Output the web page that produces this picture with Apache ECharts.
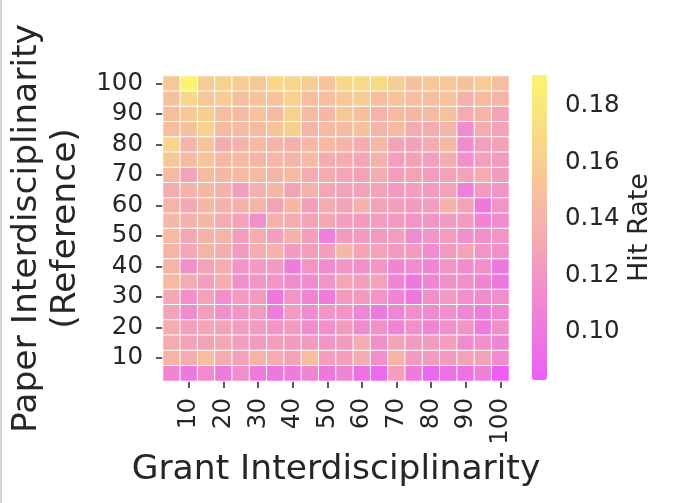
<!DOCTYPE html>
<html>
<head>
<meta charset="utf-8">
<script src="https://cdn.jsdelivr.net/npm/echarts@6/dist/echarts.min.js"></script>
<style>html,body{margin:0;padding:0;background:#fff;}#c{width:680px;height:503px;}</style>
</head>
<body>
<div id="c"></div>
<script>
// Grant interdisciplinarity (x) categories, left to right
const grantBins = ['5','10','15','20','25','30','35','40','45','50','55','60','65','70','75','80','85','90','95','100'];
// Paper interdisciplinarity (y) categories, bottom to top
const paperBins = ['5','10','15','20','25','30','35','40','45','50','55','60','65','70','75','80','85','90','95','100'];
// Hit rate rows, listed from top (paper = 100) to bottom (paper = 5)
const hitRate = [
  [0.155,0.190,0.158,0.163,0.158,0.155,0.168,0.165,0.160,0.152,0.168,0.170,0.170,0.160,0.150,0.155,0.155,0.150,0.158,0.148],
  [0.150,0.168,0.155,0.158,0.148,0.152,0.152,0.163,0.148,0.148,0.155,0.158,0.148,0.152,0.148,0.148,0.152,0.138,0.145,0.140],
  [0.148,0.155,0.160,0.148,0.145,0.152,0.145,0.163,0.145,0.142,0.155,0.148,0.140,0.145,0.142,0.145,0.150,0.134,0.140,0.128],
  [0.148,0.150,0.163,0.145,0.145,0.145,0.152,0.162,0.140,0.145,0.145,0.150,0.140,0.145,0.134,0.134,0.140,0.112,0.134,0.128],
  [0.165,0.140,0.152,0.134,0.138,0.145,0.140,0.137,0.143,0.145,0.140,0.134,0.142,0.128,0.128,0.134,0.142,0.112,0.125,0.128],
  [0.155,0.145,0.152,0.143,0.145,0.140,0.143,0.140,0.145,0.134,0.134,0.130,0.138,0.125,0.128,0.125,0.134,0.115,0.125,0.122],
  [0.145,0.128,0.145,0.142,0.145,0.145,0.140,0.145,0.134,0.134,0.130,0.128,0.134,0.125,0.128,0.125,0.128,0.128,0.134,0.122],
  [0.134,0.138,0.142,0.138,0.125,0.138,0.142,0.128,0.138,0.130,0.128,0.128,0.128,0.122,0.125,0.122,0.128,0.105,0.122,0.118],
  [0.140,0.131,0.142,0.138,0.138,0.140,0.128,0.143,0.125,0.134,0.128,0.138,0.128,0.125,0.122,0.125,0.138,0.128,0.100,0.118],
  [0.142,0.138,0.142,0.134,0.128,0.115,0.138,0.134,0.128,0.130,0.125,0.122,0.125,0.122,0.118,0.118,0.122,0.122,0.108,0.112],
  [0.145,0.130,0.138,0.140,0.125,0.134,0.125,0.138,0.125,0.105,0.122,0.122,0.122,0.125,0.112,0.118,0.125,0.115,0.115,0.118],
  [0.140,0.130,0.140,0.134,0.122,0.134,0.138,0.122,0.125,0.125,0.142,0.128,0.128,0.122,0.122,0.112,0.122,0.128,0.118,0.115],
  [0.140,0.115,0.128,0.134,0.118,0.122,0.122,0.102,0.118,0.112,0.118,0.115,0.118,0.108,0.112,0.108,0.118,0.112,0.115,0.100],
  [0.145,0.134,0.125,0.134,0.115,0.118,0.118,0.112,0.112,0.118,0.130,0.125,0.128,0.108,0.100,0.108,0.115,0.115,0.108,0.100],
  [0.130,0.115,0.128,0.115,0.122,0.122,0.100,0.118,0.108,0.102,0.122,0.122,0.118,0.108,0.100,0.115,0.122,0.115,0.112,0.115],
  [0.128,0.112,0.125,0.115,0.118,0.122,0.102,0.122,0.112,0.118,0.118,0.108,0.100,0.108,0.115,0.112,0.115,0.108,0.102,0.108],
  [0.134,0.125,0.130,0.128,0.125,0.122,0.118,0.122,0.112,0.115,0.122,0.112,0.115,0.108,0.115,0.108,0.115,0.118,0.102,0.115],
  [0.134,0.128,0.128,0.130,0.125,0.122,0.125,0.122,0.122,0.118,0.122,0.134,0.115,0.128,0.122,0.122,0.125,0.112,0.115,0.108],
  [0.140,0.134,0.148,0.134,0.128,0.140,0.134,0.128,0.148,0.125,0.125,0.134,0.115,0.140,0.122,0.122,0.122,0.128,0.128,0.112],
  [0.108,0.100,0.112,0.102,0.115,0.102,0.100,0.102,0.108,0.100,0.108,0.095,0.090,0.125,0.102,0.088,0.095,0.095,0.105,0.083]
];
// Colour bar
const colorMin = 0.0829;
const colorMax = 0.1909;
const colorTicks = [0.10, 0.12, 0.14, 0.16, 0.18];

const cells = [];
hitRate.forEach((row, r) => {
  row.forEach((v, c) => { cells.push([c, paperBins.length - 1 - r, v]); });
});

const FONT = 'DejaVu Sans';
const TXT = '#262626';
const showTen = (idx, val) => Number(val) % 10 === 0;

const chart = echarts.init(document.getElementById('c'), null, {renderer: 'canvas'});
chart.setOption({
  backgroundColor: '#ffffff',
  animation: false,
  textStyle: {fontFamily: FONT},
  grid: [
    {left: 163, top: 76, width: 346, height: 305, containLabel: false, outerBoundsMode: 'none'},
    {left: 532, top: 75, width: 15, height: 305, containLabel: false, outerBoundsMode: 'none'}
  ],
  xAxis: [
    {
      type: 'category', gridIndex: 0, data: grantBins,
      name: 'Grant Interdisciplinarity', nameLocation: 'middle', nameGap: 72,
      nameTextStyle: {fontFamily: FONT, fontSize: 34.5, color: TXT},
      axisLine: {show: false},
      splitLine: {show: false},
      axisTick: {show: true, alignWithLabel: true, interval: showTen, length: 7, lineStyle: {color: TXT, width: 1.5}},
      axisLabel: {interval: showTen, rotate: 90, margin: 17, fontFamily: FONT, fontSize: 24.5, color: TXT}
    },
    {type: 'value', gridIndex: 1, show: false, min: 0, max: 1}
  ],
  yAxis: [
    {
      type: 'category', gridIndex: 0, data: paperBins,
      name: 'Paper Interdisciplinarity\n(Reference)', nameLocation: 'middle', nameGap: 75, nameRotate: 90,
      nameTextStyle: {fontFamily: FONT, fontSize: 34.5, color: TXT, lineHeight: 39, align: 'center'},
      axisLine: {show: false},
      splitLine: {show: false},
      axisTick: {show: true, alignWithLabel: true, interval: showTen, length: 7, lineStyle: {color: TXT, width: 1.5}},
      axisLabel: {interval: showTen, margin: 20, fontFamily: FONT, fontSize: 24.5, color: TXT}
    },
    {
      type: 'value', gridIndex: 1, position: 'right', min: colorMin, max: colorMax,
      name: 'Hit Rate', nameLocation: 'middle', nameRotate: 90, nameGap: 79,
      nameTextStyle: {fontFamily: FONT, fontSize: 27, color: TXT},
      axisLine: {show: false},
      splitLine: {show: false},
      axisTick: {show: true, customValues: colorTicks, length: 7, lineStyle: {color: TXT, width: 1.5}},
      axisLabel: {customValues: colorTicks, margin: 18, fontFamily: FONT, fontSize: 24.5, color: TXT,
        formatter: v => Number(v).toFixed(2)}
    }
  ],
  visualMap: {
    type: 'continuous', seriesIndex: 0, min: colorMin, max: colorMax,
    calculable: false, orient: 'vertical', left: 532, top: 75, padding: 0,
    itemWidth: 15, itemHeight: 305, text: null, hoverLink: false,
    inRange: {color: ['#EB5FF5', '#F5B0AC', '#FAF56E']}
  },
  graphic: [
    {type: 'rect', left: 0, top: 0, shape: {x: 0, y: 0, width: 2, height: 503}, style: {fill: '#d4d4d4'}, silent: true}
  ],
  series: [
    {
      type: 'heatmap', xAxisIndex: 0, yAxisIndex: 0, data: cells,
      itemStyle: {borderColor: '#ffffff', borderWidth: 1},
      emphasis: {disabled: true}
    },
    {type: 'scatter', xAxisIndex: 1, yAxisIndex: 1, data: [], silent: true}
  ]
});
</script>
</body>
</html>
